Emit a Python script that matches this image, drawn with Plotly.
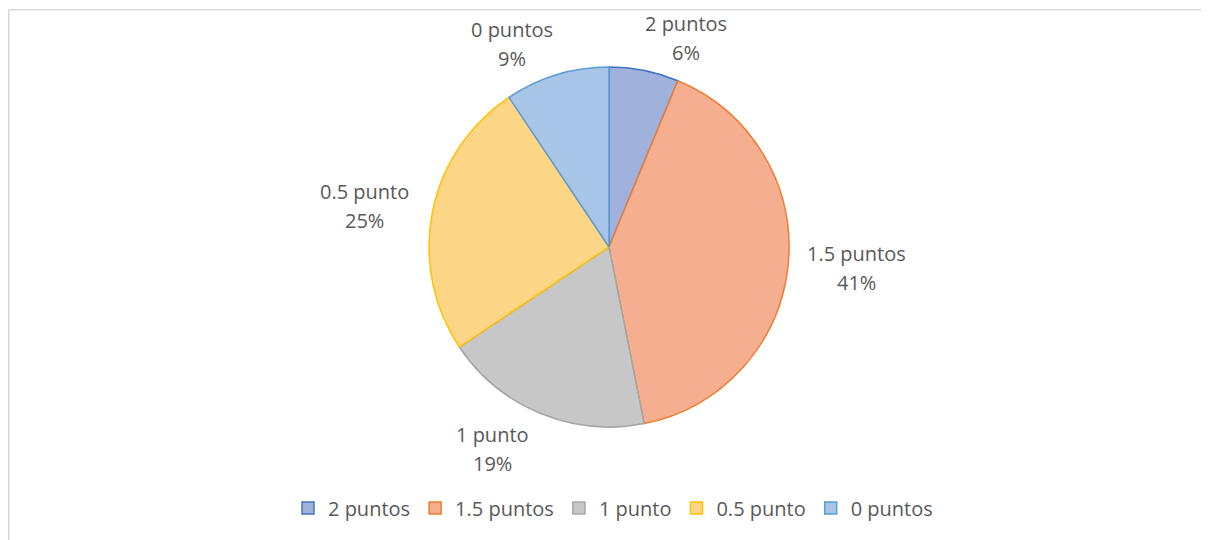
import math
import plotly.graph_objects as go

labels = ["2 puntos", "1.5 puntos", "1 punto", "0.5 punto", "0 puntos"]
values = [2, 13, 6, 8, 3]
fill_colors = ["#A0B1DC", "#F5AF90", "#C7C7C7", "#FDD587", "#A8C5E7"]
line_colors = ["#4472C4", "#ED7D31", "#A5A5A5", "#FFC000", "#5B9BD5"]

OFF = 8  # page body margin
W, H = 1209 - OFF, 540 - OFF
cx, cy, R = 609 - OFF, 247 - OFF, 180  # pixel layout of the pie (figure coords)

fig = go.Figure()
fig.add_trace(go.Pie(
    labels=labels, values=values, sort=False, direction="clockwise", rotation=0,
    marker=dict(colors=fill_colors, line=dict(color=line_colors, width=1.5)),
    textinfo="none", hoverinfo="label+percent",
    domain=dict(x=[(cx - R) / W, (cx + R) / W], y=[(H - cy - R) / H, (H - cy + R) / H]),
))

# data labels placed along each slice's mid-angle (best-fit style, pushed away from the vertical axis)
lab_font = dict(family="Open Sans", size=20, color="#595959")
total = sum(values)
cum = 0
for lab, v in zip(labels, values):
    mid = (cum + v / 2) / total * 2 * math.pi
    cum += v
    dx, dy = math.sin(mid), -math.cos(mid)
    px = cx + dx * R * 1.38 + math.copysign(35, dx) * (1 - abs(dx))
    py = cy + dy * R * 1.17 + (8 if dy > 0 else -2) * abs(dy)
    pct = round(v / total * 100)
    for txt, shift in ((lab, 14.5), (f"{pct}%", -14.5)):
        fig.add_annotation(x=px / W, y=1 - py / H, xref="paper", yref="paper",
                           text=txt, showarrow=False, yshift=shift,
                           xanchor="center", yanchor="middle", font=lab_font)

# chart area border (left and top edges visible)
bx, by = 0.75, 1.75
fig.add_shape(type="line", xref="paper", yref="paper", x0=bx / W, x1=bx / W, y0=0, y1=1 - by / H,
              line=dict(color="#D9D9D9", width=1.5))
fig.add_shape(type="line", xref="paper", yref="paper", x0=bx / W, x1=1, y0=1 - by / H, y1=1 - by / H,
              line=dict(color="#D9D9D9", width=1.5))

fig.update_layout(
    width=W, height=H, margin=dict(l=0, r=0, t=0, b=0),
    paper_bgcolor="white", plot_bgcolor="white",
    showlegend=True,
    legend=dict(orientation="h", x=(613 - OFF) / W, xanchor="center", y=1 - (508 - OFF) / H, yanchor="middle",
                font=lab_font, itemclick=False),
)

fig.write_html("out.html")
